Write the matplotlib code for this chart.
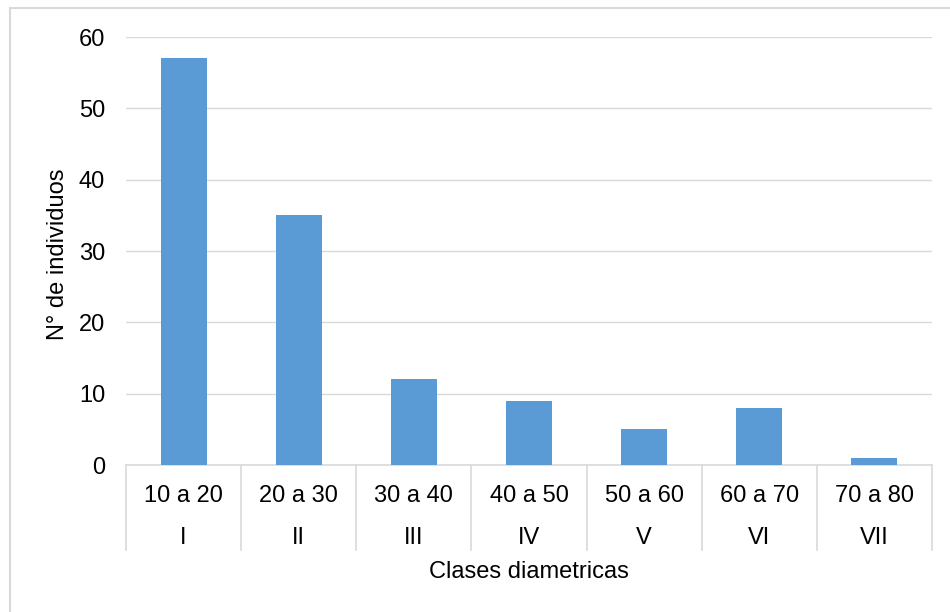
import matplotlib
matplotlib.use("Agg")
import matplotlib.pyplot as plt
import matplotlib.transforms as mtransforms
from matplotlib.patches import Rectangle

plt.rcParams['font.family'] = ['Liberation Sans', 'DejaVu Sans']

# Data
ranges = ["10 a 20", "20 a 30", "30 a 40", "40 a 50", "50 a 60", "60 a 70", "70 a 80"]
classes = ["I", "II", "III", "IV", "V", "VI", "VII"]
counts = [57, 35, 12, 9, 5, 8, 1]
yticks = [0, 10, 20, 30, 40, 50, 60]

W, H = 950, 612
fig = plt.figure(figsize=(W / 100, H / 100), dpi=100)

# Outer chart border (only left/top visible in reference)
fig.patches.append(Rectangle((10 / W, -0.1), 1.2, 1 - 8 / H + 0.1, transform=fig.transFigure,
                             fill=False, edgecolor='#d9d9d9', linewidth=1.5))

left, right, top, bottom = 126, 932, 37, 465
ax = fig.add_axes([left / W, 1 - bottom / H, (right - left) / W, (bottom - top) / H])

grid_c = '#d9d9d9'
fs = 17
x = list(range(len(counts)))
ax.bar(x, counts, width=0.4, color='#5b9bd5', zorder=3)
ax.set_xlim(-0.5, len(counts) - 0.5)
ax.set_ylim(0, 60)
ax.set_yticks(yticks)
ax.set_yticklabels([str(v) for v in yticks], fontsize=fs, color='black')
ax.tick_params(axis='y', length=0, pad=15)
ax.set_xticks([])
ax.yaxis.grid(True, color=grid_c, linewidth=1.0, zorder=0)
ax.set_axisbelow(True)
for s in ['left', 'right', 'top']:
    ax.spines[s].set_visible(False)
ax.spines['bottom'].set_color(grid_c)
ax.spines['bottom'].set_linewidth(1.2)

ph = bottom - top
trans = mtransforms.blended_transform_factory(ax.transData, ax.transAxes)
sep_bottom = -(550 - bottom) / ph
for i in range(len(counts) + 1):
    ax.plot([i - 0.5, i - 0.5], [0, sep_bottom], transform=trans, color=grid_c,
            linewidth=1.2, clip_on=False)

y1 = -(502 - bottom) / ph
y2 = -(544 - bottom) / ph
for i, (r, c) in enumerate(zip(ranges, classes)):
    ax.text(i, y1, r, transform=trans, ha='center', va='baseline', fontsize=fs, color='black')
    ax.text(i, y2, c, transform=trans, ha='center', va='baseline', fontsize=fs, color='black')

ax.text(0.5, -(578 - bottom) / ph, "Clases diametricas", transform=ax.transAxes,
        ha='center', va='baseline', fontsize=fs, color='black')

fig.text(58 / W, 1 - 254 / H, "N° de individuos", rotation=90, ha='center', va='center',
         fontsize=fs, color='black')

fig.savefig("out.png", dpi=100, facecolor='white')
